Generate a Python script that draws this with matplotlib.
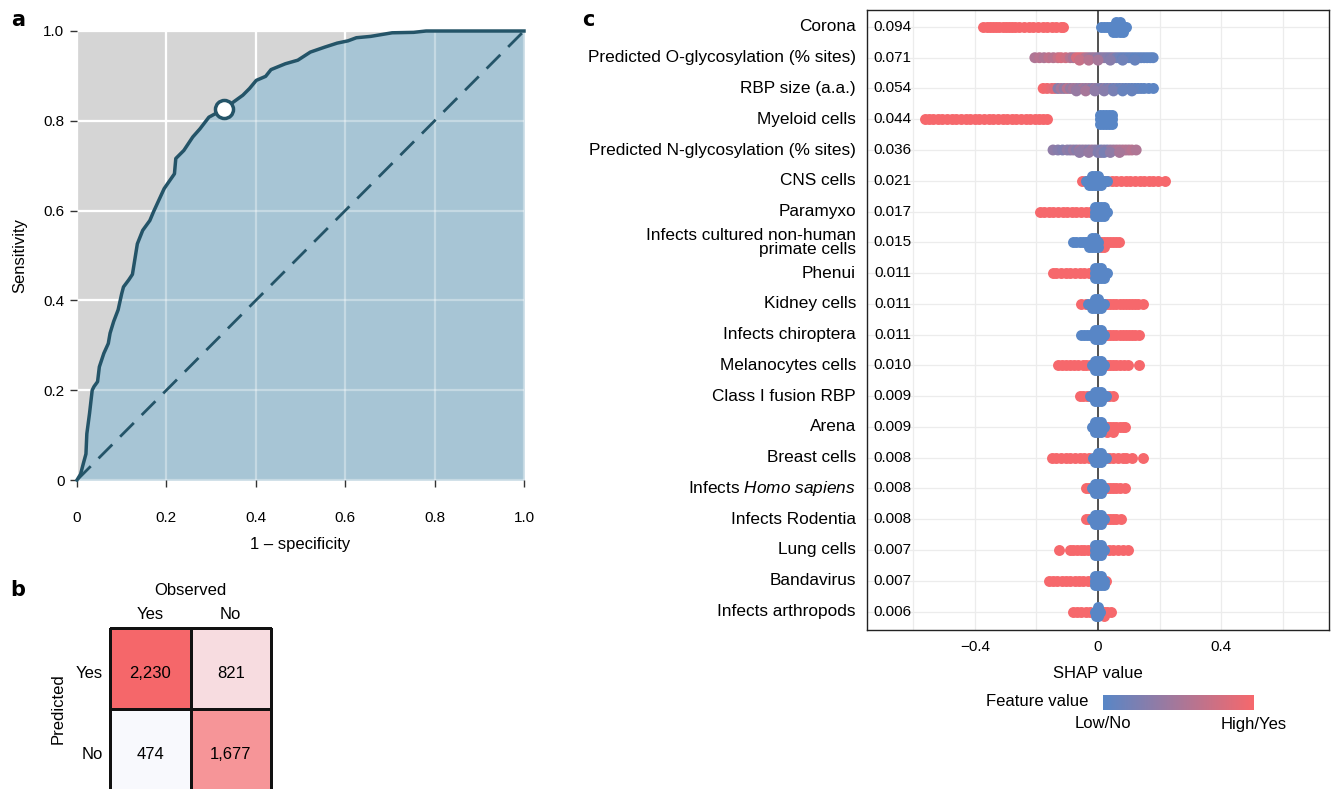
import numpy as np
import matplotlib
matplotlib.use('Agg')
import matplotlib.pyplot as plt
from matplotlib.colors import LinearSegmentedColormap
from matplotlib.cm import ScalarMappable

plt.rcParams['font.family'] = ['Liberation Sans', 'DejaVu Sans']
plt.rcParams['mathtext.fontset'] = 'custom'
plt.rcParams['mathtext.rm'] = 'Liberation Sans'
plt.rcParams['mathtext.it'] = 'Liberation Sans:italic'

W, H = 1333, 789

# ---------- panel a: ROC curve ----------
fpr = [0, 0.008, 0.014, 0.02, 0.022, 0.028, 0.034, 0.038, 0.046, 0.05, 0.06, 0.07,
       0.074, 0.082, 0.092, 0.1, 0.104, 0.116, 0.124, 0.135, 0.147, 0.163, 0.171,
       0.195, 0.218, 0.221, 0.239, 0.259, 0.275, 0.295, 0.328, 0.371, 0.386, 0.401,
       0.422, 0.434, 0.466, 0.494, 0.522, 0.554, 0.582, 0.606, 0.625, 0.657, 0.705,
       0.753, 0.781, 1.0]
tpr = [0, 0.013, 0.036, 0.058, 0.103, 0.148, 0.2, 0.208, 0.219, 0.252, 0.282, 0.304,
       0.327, 0.353, 0.379, 0.415, 0.43, 0.446, 0.458, 0.526, 0.556, 0.578, 0.597,
       0.649, 0.682, 0.716, 0.734, 0.764, 0.782, 0.808, 0.826, 0.857, 0.872, 0.89,
       0.899, 0.914, 0.927, 0.935, 0.953, 0.964, 0.973, 0.978, 0.985, 0.988, 0.996,
       0.997, 1.0, 1.0]
cut_fpr, cut_tpr = 0.328, 0.826

# ---------- panel b: confusion matrix ----------
obs_labels = ['Yes', 'No']
pred_labels = ['Yes', 'No']
conf_counts = [[2230, 821],
               [474, 1677]]

# ---------- panel c: SHAP beeswarm ----------
features = ['Corona', 'Predicted O-glycosylation (% sites)', 'RBP size (a.a.)',
            'Myeloid cells', 'Predicted N-glycosylation (% sites)', 'CNS cells',
            'Paramyxo', 'Infects cultured non-human\nprimate cells', 'Phenui',
            'Kidney cells', 'Infects chiroptera', 'Melanocytes cells',
            'Class I fusion RBP', 'Arena', 'Breast cells',
            r'Infects $\mathit{Homo\ sapiens}$', 'Infects Rodentia', 'Lung cells',
            'Bandavirus', 'Infects arthropods']
mean_abs = ['0.094', '0.071', '0.054', '0.044', '0.036', '0.021', '0.017', '0.015',
            '0.011', '0.011', '0.011', '0.010', '0.009', '0.009', '0.008', '0.008',
            '0.008', '0.007', '0.007', '0.006']

# SHAP values of samples with feature = Yes (red) and = No (blue), one list per row
shap_red = [
    [-0.374, -0.36, -0.35, -0.34, -0.33, -0.32, -0.31, -0.30, -0.29, -0.28, -0.27,
     -0.255, -0.24, -0.225, -0.21, -0.195, -0.18, -0.165, -0.15, -0.135, -0.12, -0.114],
    [],
    [],
    [-0.562, -0.55, -0.535, -0.52, -0.505, -0.49, -0.475, -0.46, -0.445, -0.43, -0.415,
     -0.40, -0.385, -0.37, -0.355, -0.34, -0.325, -0.31, -0.295, -0.28, -0.265, -0.25,
     -0.235, -0.22, -0.205, -0.19, -0.178, -0.166],
    [],
    [-0.051, -0.04, -0.03, 0.015, 0.03, 0.045, 0.06, 0.075, 0.09, 0.105, 0.12, 0.135,
     0.15, 0.165, 0.18, 0.195, 0.218],
    [-0.189, -0.175, -0.16, -0.145, -0.13, -0.115, -0.10, -0.085, -0.07, -0.055, -0.04,
     -0.025, -0.012],
    [0.0, 0.01, 0.01, 0.02, 0.02, 0.03, 0.04, 0.05, 0.06, 0.068],
    [-0.147, -0.135, -0.12, -0.105, -0.09, -0.075, -0.06, -0.045, -0.03, -0.018],
    [-0.054, -0.04, 0.02, 0.03, 0.04, 0.05, 0.06, 0.07, 0.08, 0.09, 0.10, 0.11, 0.12,
     0.13, 0.145],
    [0.02, 0.03, 0.04, 0.05, 0.06, 0.07, 0.08, 0.09, 0.10, 0.11, 0.12, 0.134],
    [-0.13, -0.118, -0.105, -0.09, -0.078, -0.065, -0.05, -0.038, -0.025, 0.01, 0.02,
     0.03, 0.04, 0.05, 0.06, 0.07, 0.085, 0.098, 0.132],
    [-0.06, -0.048, -0.036, -0.024, 0.024, 0.036, 0.049],
    [0.02, 0.03, 0.03, 0.04, 0.05, 0.05, 0.06, 0.07, 0.08, 0.089],
    [-0.149, -0.135, -0.12, -0.105, -0.09, -0.075, -0.06, -0.045, -0.03, 0.02, 0.035,
     0.05, 0.065, 0.08, 0.092, 0.109, 0.147],
    [-0.038, -0.028, 0.02, 0.03, 0.04, 0.05, 0.06, 0.07, 0.087],
    [-0.038, -0.028, 0.02, 0.03, 0.04, 0.05, 0.06, 0.074],
    [-0.127, -0.092, -0.08, -0.068, -0.056, -0.044, -0.032, 0.02, 0.035, 0.05, 0.065,
     0.08, 0.096],
    [-0.16, -0.146, -0.132, -0.118, -0.104, -0.09, -0.076, -0.062, -0.048, -0.034,
     -0.02, 0.027],
    [-0.082, -0.068, -0.054, -0.038, -0.025, 0.01, 0.02, 0.02, 0.03, 0.043],
]
shap_blue = [
    [0.01, 0.02, 0.03, 0.04, 0.045, 0.05, 0.05, 0.055, 0.06, 0.06, 0.06, 0.065, 0.07,
     0.07, 0.07, 0.075, 0.08, 0.08, 0.085, 0.09],
    [],
    [],
    [0.005, 0.005, 0.005, 0.015, 0.015, 0.015, 0.025, 0.025, 0.025, 0.035, 0.035,
     0.035, 0.045, 0.045, 0.045],
    [],
    [-0.04, -0.03, -0.03, -0.02, -0.02, -0.02, -0.01, -0.01, -0.01, 0.0, 0.0, 0.0,
     0.01, 0.01, 0.02, 0.028],
    [-0.01, -0.01, -0.01, 0.0, 0.0, 0.0, 0.01, 0.01, 0.01, 0.02, 0.02, 0.02, 0.028],
    [-0.082, -0.07, -0.06, -0.05, -0.04, -0.035, -0.03, -0.03, -0.02, -0.02, -0.02,
     -0.01, -0.01, -0.01, 0.0, 0.0],
    [-0.01, -0.01, -0.01, 0.0, 0.0, 0.0, 0.01, 0.01, 0.01, 0.02, 0.02, 0.03],
    [-0.033, -0.02, -0.02, -0.01, -0.01, -0.01, 0.0, 0.0, 0.0, 0.01, 0.01, 0.02],
    [-0.054, -0.045, -0.035, -0.025, -0.02, -0.01, -0.01, -0.01, 0.0, 0.0, 0.0, 0.01,
     0.01, 0.01, 0.02],
    [-0.02, -0.01, -0.01, -0.01, 0.0, 0.0, 0.0, 0.01, 0.01, 0.01, 0.02],
    [-0.027, -0.02, -0.01, -0.01, -0.01, 0.0, 0.0, 0.0, 0.01, 0.01, 0.01, 0.02, 0.027],
    [-0.02, -0.01, -0.01, -0.01, 0.0, 0.0, 0.0, 0.01, 0.01, 0.01, 0.02],
    [-0.015, -0.01, -0.01, 0.0, 0.0, 0.0, 0.01, 0.01, 0.01, 0.02, 0.025],
    [-0.02, -0.01, -0.01, -0.01, 0.0, 0.0, 0.0, 0.01, 0.01, 0.01, 0.02],
    [-0.02, -0.01, -0.01, -0.01, 0.0, 0.0, 0.0, 0.01, 0.01, 0.01, 0.02],
    [-0.01, -0.01, -0.01, 0.0, 0.0, 0.0, 0.01, 0.01, 0.01, 0.02],
    [-0.01, -0.01, -0.01, 0.0, 0.0, 0.0, 0.01, 0.01, 0.01, 0.02, 0.02],
    [-0.01, -0.005, -0.005, 0.0, 0.0, 0.0, 0.005],
]

# continuous features: (SHAP value, scaled feature value)
cont_rows = [1, 2, 4]
cont_points = [
    [(-0.205, 0.55), (-0.19, 0.6), (-0.175, 0.55), (-0.16, 0.65), (-0.145, 0.6),
     (-0.13, 0.7), (-0.12, 0.8), (-0.105, 0.75), (-0.09, 0.6), (-0.08, 0.5),
     (-0.07, 0.8), (-0.06, 0.85), (-0.05, 0.8), (-0.04, 0.6), (-0.03, 0.5),
     (-0.02, 0.4), (-0.01, 0.45), (0.0, 0.35), (0.01, 0.3), (0.02, 0.35), (0.03, 0.3),
     (0.04, 0.25), (0.05, 0.35), (0.06, 0.2), (0.07, 0.15), (0.08, 0.1), (0.09, 0.12),
     (0.1, 0.08), (0.11, 0.1), (0.12, 0.05), (0.13, 0.08), (0.14, 0.05), (0.15, 0.06),
     (0.16, 0.05), (0.17, 0.05), (0.179, 0.05), (-0.06, 0.7), (-0.03, 0.6),
     (0.0, 0.5), (0.04, 0.3), (0.08, 0.15), (0.12, 0.1)],
    [(-0.178, 1.0), (-0.165, 0.95), (-0.15, 0.9), (-0.14, 0.85), (-0.13, 0.3),
     (-0.12, 0.5), (-0.11, 0.35), (-0.1, 0.6), (-0.09, 0.4), (-0.08, 0.5),
     (-0.07, 0.45), (-0.06, 0.35), (-0.05, 0.5), (-0.04, 0.4), (-0.03, 0.45),
     (-0.02, 0.3), (-0.01, 0.4), (0.0, 0.3), (0.01, 0.25), (0.02, 0.35), (0.03, 0.2),
     (0.04, 0.3), (0.05, 0.15), (0.06, 0.2), (0.07, 0.1), (0.08, 0.15), (0.09, 0.1),
     (0.1, 0.12), (0.11, 0.08), (0.12, 0.1), (0.13, 0.05), (0.14, 0.08), (0.15, 0.05),
     (0.165, 0.05), (0.18, 0.03), (-0.07, 0.4), (-0.04, 0.5), (-0.01, 0.35),
     (0.02, 0.3), (0.05, 0.2), (0.08, 0.1), (0.11, 0.1)],
    [(-0.146, 0.35), (-0.13, 0.3), (-0.115, 0.25), (-0.1, 0.35), (-0.09, 0.3),
     (-0.08, 0.4), (-0.07, 0.3), (-0.06, 0.45), (-0.05, 0.35), (-0.04, 0.4),
     (-0.03, 0.3), (-0.02, 0.45), (-0.01, 0.35), (0.0, 0.3), (0.01, 0.2), (0.02, 0.3),
     (0.03, 0.25), (0.04, 0.4), (0.05, 0.45), (0.06, 0.5), (0.07, 0.55), (0.08, 0.55),
     (0.09, 0.6), (0.1, 0.55), (0.11, 0.6), (0.124, 0.55), (-0.06, 0.35),
     (-0.03, 0.4), (0.0, 0.25), (0.01, 0.3), (0.02, 0.2), (0.04, 0.35), (0.07, 0.5)],
]

roc_col = '#245468'
shap_cmap = LinearSegmentedColormap.from_list('shap', ['#5886c6', '#f6686c'])
dot_size = 62


def stack_offsets(xs, step=0.15):
    # repeated values are piled up vertically, like a beeswarm
    seen = {}
    out = []
    for x in xs:
        k = seen.get(x, 0)
        seen[x] = k + 1
        out.append([0, 1, -1, 2, -2][min(k, 4)] * step)
    return np.array(out)


fig = plt.figure(figsize=(W / 100, H / 100), dpi=100)

# ===== a =====
ax = fig.add_axes([77 / W, 1 - 480 / H, 447 / W, 449 / H])
ax.set_facecolor('#d5d5d5')
grid = [0, 0.2, 0.4, 0.6, 0.8, 1.0]
for g in grid:
    ax.axvline(g, color='white', lw=1.6, zorder=0.5)
    ax.axhline(g, color='white', lw=1.6, zorder=0.5)
ax.fill_between(fpr, tpr, 0, color='#a7c5d5', lw=0, zorder=1)
for g in grid:
    ax.axvline(g, color='white', lw=1.6, alpha=0.35, zorder=1.5)
    ax.axhline(g, color='white', lw=1.6, alpha=0.35, zorder=1.5)
ax.plot([0, 1], [0, 1], color=roc_col, lw=2, dashes=(7, 4), zorder=2)
ax.plot(fpr, tpr, color=roc_col, lw=2.5, zorder=3, clip_on=False,
        solid_joinstyle='round')
ax.plot(cut_fpr, cut_tpr, 'o', ms=13, mfc='white', mec=roc_col, mew=2.5, zorder=4)
ax.set_xlim(0, 1)
ax.set_ylim(0, 1)
for s in ax.spines.values():
    s.set_visible(False)
ax.set_xticks(grid)
ax.set_xticklabels(['0', '0.2', '0.4', '0.6', '0.8', '1.0'])
ax.set_yticks(grid)
ax.set_yticklabels(['0', '0.2', '0.4', '0.6', '0.8', '1.0'])
ax.tick_params(axis='x', length=5, width=1, color='#333', pad=17, labelsize=11)
ax.tick_params(axis='y', length=5, width=1, color='#333', pad=4, labelsize=11)
ax.set_xlabel('1 – specificity', fontsize=12)
ax.set_ylabel('Sensitivity', fontsize=12)
ax.xaxis.set_label_coords(0.5, -0.143)
ax.xaxis.label.set_va('center')
ax.yaxis.set_label_coords(-57 / 447, 0.5)
ax.yaxis.label.set_va('center')

# ===== b =====
axb = fig.add_axes([110 / W, -1 / H, 161 / W, 162 / H])
cm_cmap = LinearSegmentedColormap.from_list('cm', ['#f8f9fd', '#f5676a'])
axb.pcolormesh(np.arange(3), np.arange(3), np.array(conf_counts), cmap=cm_cmap,
               edgecolors='#111111', linewidth=0.8, clip_on=False)
axb.set_xlim(0, 2)
axb.set_ylim(2, 0)
axb.axis('off')
for i in range(2):
    for j in range(2):
        axb.text(j + 0.5, i + 0.56, f'{conf_counts[i][j]:,}', ha='center',
                 va='center', fontsize=12)
    axb.text(i + 0.5, -0.17, obs_labels[i], ha='center', va='center', fontsize=12)
    axb.text(-0.09, i + 0.56, pred_labels[i], ha='right', va='center', fontsize=12)
axb.text(1.0, -0.46, 'Observed', ha='center', va='center', fontsize=12)
axb.text(-0.65, 1.0, 'Predicted', ha='center', va='center', rotation=90,
         fontsize=12, clip_on=False)

# ===== c =====
axc = fig.add_axes([867 / W, 1 - 630 / H, 462 / W, 620 / H])
n = len(features)
axc.set_xlim(-0.75, 0.75)
axc.set_ylim(n - 0.4, -0.55)
for g in [-0.6, -0.4, -0.2, 0.2, 0.4, 0.6]:
    axc.axvline(g, color='#ececec', lw=0.9, zorder=0)
for r in range(n):
    axc.axhline(r, color='#ececec', lw=0.9, zorder=0)
axc.axvline(0, color='#222222', lw=1.1, zorder=1)

for r in range(n):
    if shap_red[r]:
        axc.scatter(shap_red[r], r + stack_offsets(shap_red[r]), s=dot_size,
                    color='#f6686c', lw=0, zorder=2)
    if shap_blue[r]:
        axc.scatter(shap_blue[r], r + stack_offsets(shap_blue[r]), s=dot_size,
                    color='#5886c6', lw=0, zorder=3)
for r, pts in zip(cont_rows, cont_points):
    xs = [p[0] for p in pts]
    fv = [p[1] for p in pts]
    axc.scatter(xs, r + stack_offsets(xs, step=0.08), s=dot_size, c=fv,
                cmap=shap_cmap, vmin=0, vmax=1, lw=0, zorder=2)

trans = axc.get_yaxis_transform()
for r in range(n):
    axc.text(-0.024, r, features[r], transform=trans, ha='right', va='center',
             fontsize=12.4, multialignment='right', linespacing=0.95)
    axc.text(0.056, r, mean_abs[r], transform=trans, ha='center', va='center',
             fontsize=11)

axc.set_yticks([])
axc.set_xticks([-0.4, 0, 0.4])
axc.set_xticklabels(['−0.4', '0', '0.4'])
axc.tick_params(axis='x', length=0, pad=7, labelsize=11)
for s in axc.spines.values():
    s.set_color('#222222')
    s.set_linewidth(1)
axc.set_xlabel('SHAP value', fontsize=12, labelpad=9)

# colour bar
axcb = fig.add_axes([1103 / W, 1 - 710 / H, 151 / W, 15 / H])
cb = fig.colorbar(ScalarMappable(cmap=shap_cmap), cax=axcb, orientation='horizontal')
cb.set_ticks([])
cb.outline.set_visible(False)
fig.text(1088 / W, 1 - 701 / H, 'Feature value', ha='right', va='center', fontsize=12)
fig.text(1103 / W, 1 - 724 / H, 'Low/No', ha='center', va='center', fontsize=12)
fig.text(1254 / W, 1 - 724 / H, 'High/Yes', ha='center', va='center', fontsize=12)

# panel letters
for lab, px, py in [('a', 18, 20), ('b', 18, 590), ('c', 588, 20)]:
    fig.text(px / W, 1 - py / H, lab, ha='center', va='center', fontsize=15,
             fontweight='heavy', family='DejaVu Sans')

fig.savefig('out.png', dpi=100)
